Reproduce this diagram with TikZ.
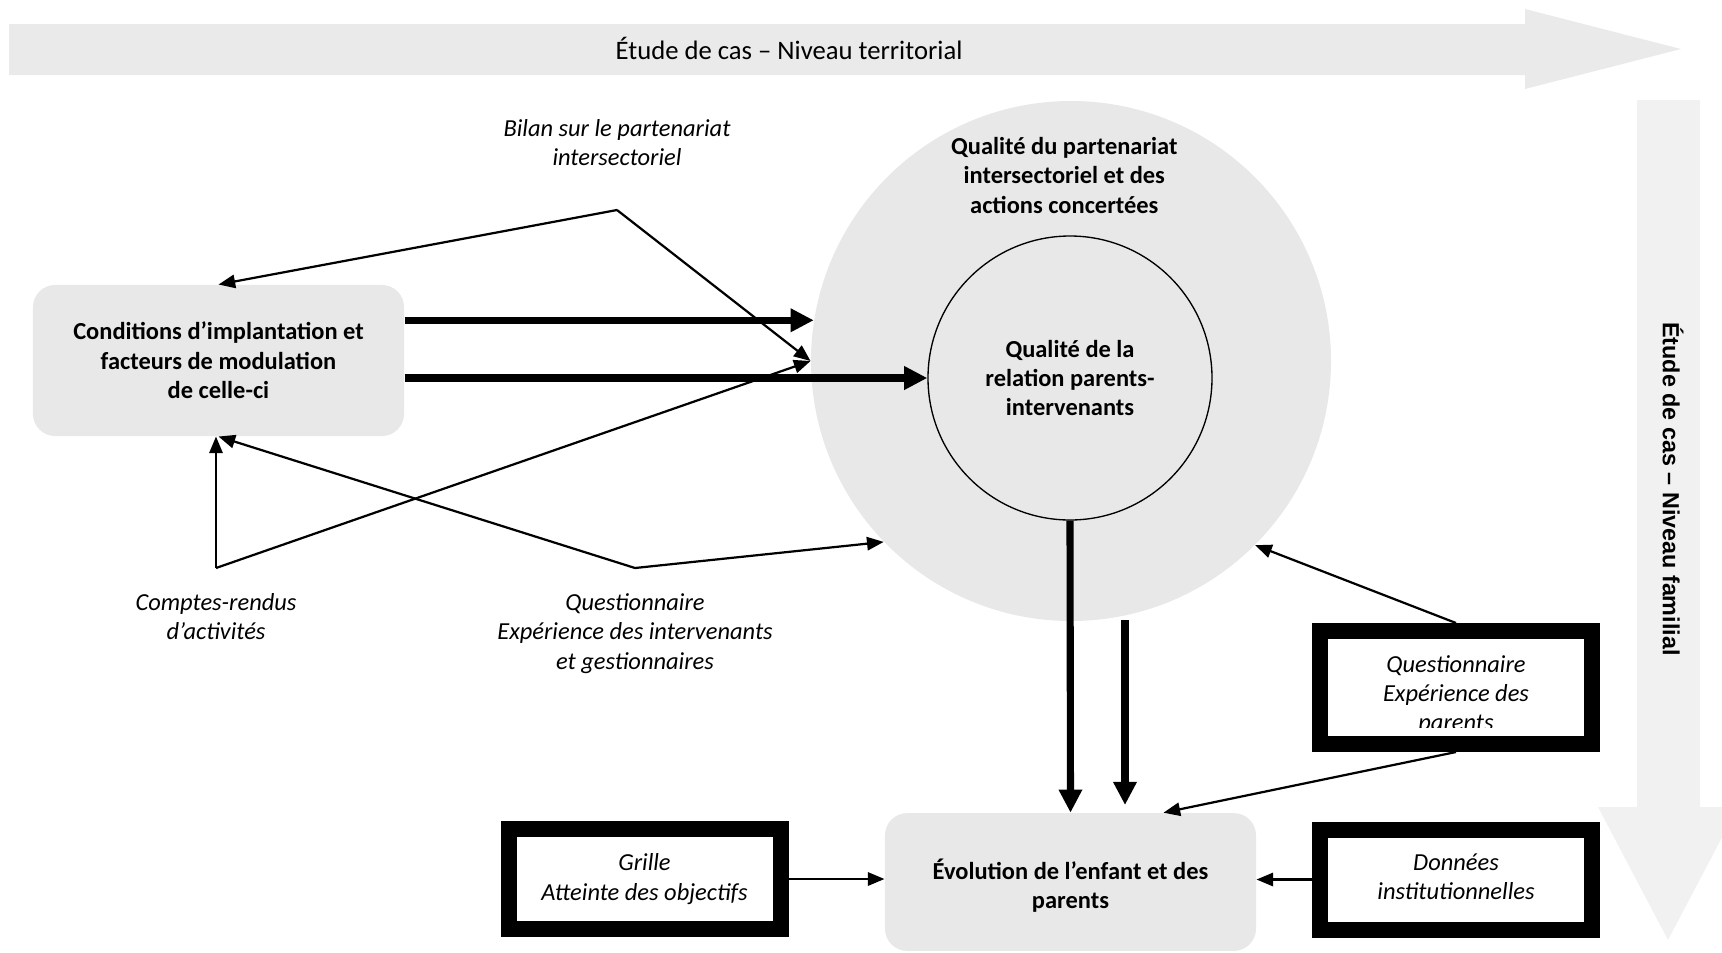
\documentclass[tikz,border=0pt]{standalone}
\usepackage{fontspec}
\setmainfont{Carlito}
\newfontfamily\sidefont{Liberation Sans}
\usepackage{tikz}
\usetikzlibrary{positioning}
\usetikzlibrary{arrows.meta}
\usetikzlibrary{calc}
\usepackage{xcolor}
\definecolor{bandgray}{HTML}{EAEAEA}
\definecolor{sidegray}{HTML}{F1F1F1}
\definecolor{boxgray}{HTML}{E8E8E8}

\begin{document}
\begin{tikzpicture}[
		% one unit = one pixel of the layout, y going down
		x=0.45pt, y=-0.45pt,
		greybox/.style={fill=boxgray, rounded corners=10pt, minimum width=167pt, minimum height=68pt, align=center, font=\fontsize{11pt}{13.2pt}\selectfont\bfseries},
		ring/.style={circle, fill=boxgray, minimum size=234pt, inner sep=0pt},
		core/.style={circle, draw, line width=0.6pt, minimum size=127.8pt, inner sep=0pt, align=center, font=\fontsize{11pt}{13.2pt}\selectfont\bfseries},
		heading/.style={align=center, font=\fontsize{11pt}{13.2pt}\selectfont\bfseries},
		toolframe/.style={draw, line width=7.2pt, fill=white, inner sep=0pt, minimum width=122.4pt, minimum height=45pt, align=center, font=\fontsize{11pt}{13.2pt}\selectfont\itshape},
		note/.style={align=center, font=\fontsize{11pt}{13.2pt}\selectfont\itshape},
		arrow/.style={-{Triangle[length=7.5pt, width=6pt]}, line width=1pt},
		bigarrow/.style={-{Triangle[length=10.4pt, width=10pt]}, line width=3.2pt},
		]
		\useasboundingbox (0,0) rectangle (1722,952);
		\clip (0,0) rectangle (1722,952);

		% Level bands
		\fill[bandgray] (9,24) -- (1525,24) -- (1525,9) -- (1681,49) -- (1525,89) -- (1525,75) -- (9,75) -- cycle;
		\node[font=\fontsize{12pt}{14pt}\selectfont] (territorial) at (789,48) {Étude de cas – Niveau territorial};
		\fill[sidegray] (1637,100) -- (1700,100) -- (1700,807) -- (1738,807) -- (1668,940) -- (1598,807) -- (1637,807) -- cycle;
		\node[rotate=-90, font=\sidefont\bfseries\fontsize{10.5pt}{12pt}\selectfont] (familial) at (1673,489) {Étude de cas – Niveau familial};

		% Main nodes
		\node[greybox] (cond) at (218.5,360.5) {Conditions d’implantation et\\facteurs de modulation\\de celle-ci};
		\node[ring] (outer) at (1071,361) {};
		\node[heading, below=13pt of outer.north, xshift=-3pt] (ringtitle) {Qualité du partenariat\\intersectoriel et des\\actions concertées};
		\node[core] (inner) at (1070,378) {Qualité de la\\relation parents-\\intervenants};
		\node[greybox, minimum height=62pt] (evol) at (1070.5,882) {\rule{0pt}{12.8pt}Évolution de l’enfant et des\\parents};

		% Data sources
		\node[toolframe] (grille) at (644.5,879) {Grille\\Atteinte des objectifs};
		\node[toolframe] (donnees) at (1456,879.5) {Données\\institutionnelles\rule[-2.5pt]{0pt}{2.5pt}};
		\node[toolframe, minimum height=50.85pt] (qparents) at (1456,687.5) {\rule{0pt}{14.5pt}Questionnaire\\Expérience des\\parents};
		\fill[white] ($(qparents.south west)+(16,-16)$) rectangle ($(qparents.south east)+(-16,-24)$);

		\coordinate (bilanfork) at (617,210);
		\coordinate (crfork) at (216,568);
		\coordinate (qifork) at (635,568);
		\node[note, above=16.3pt of bilanfork] (bilan) {Bilan sur le partenariat\\intersectoriel};
		\node[note, below=8pt of crfork] (comptes) {Comptes-rendus\\d’activités};
		\node[note, below=8pt of qifork] (qinterv) {Questionnaire\\Expérience des intervenants\\et gestionnaires};

		% Thin arrows
		\draw[arrow] (bilanfork) -- (cond.north);
		\draw[arrow] (bilanfork) -- (outer.west);
		\draw[arrow] (crfork) -- (crfork |- cond.south);
		\draw[arrow] (crfork) -- (outer.west);
		\draw[arrow] (qifork) -- (cond.south);
		\draw[arrow] (qifork) -- (outer.224);
		\draw[arrow] (qparents.north) -- (outer.315);
		\draw[arrow] (qparents.south) -- ($(evol.north)!0.5!(evol.north east)$);
		\draw[arrow] (grille.east) -- (grille.east -| evol.west);
		\draw[arrow] (donnees.west) -- (donnees.west -| evol.east);

		% Thick arrows
		\draw[bigarrow] (cond.east |- outer.171) -- (outer.171);
		\draw[bigarrow] (cond.east |- inner.west) -- (inner.west);
		\draw[bigarrow] (inner.south) -- (evol.north);
		\coordinate (relaytop) at (1125,620);
		\coordinate (relayend) at (1125,805);
		\draw[bigarrow] (relaytop) -- (relayend);

	\end{tikzpicture}
\end{document}
